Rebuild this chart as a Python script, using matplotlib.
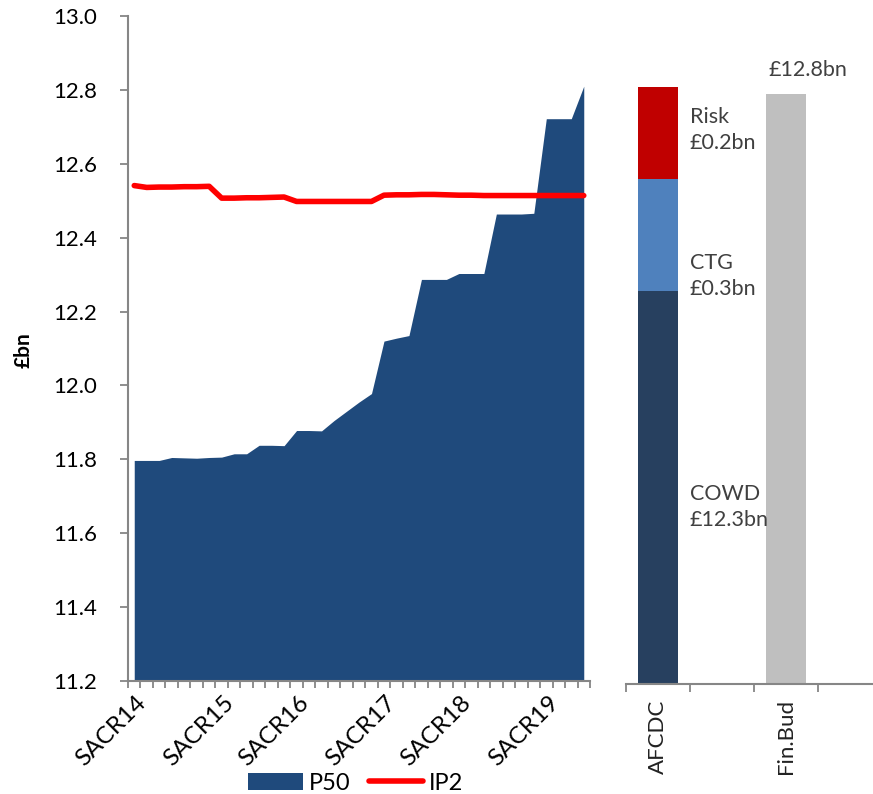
import matplotlib
matplotlib.use("Agg")
import matplotlib.pyplot as plt
from matplotlib.patches import Patch
from matplotlib.lines import Line2D
from matplotlib.transforms import ScaledTranslation
import numpy as np

plt.rcParams['font.family'] = ['Lato', 'DejaVu Sans']

# Monthly P50 estimate and IP2 line (£bn)
p50 = [11.797, 11.797, 11.797, 11.805, 11.804, 11.803, 11.805, 11.806,
       11.815, 11.815, 11.838, 11.838, 11.837, 11.878, 11.878, 11.877,
       11.905, 11.930, 11.955, 11.978, 12.120, 12.128, 12.135, 12.287,
       12.287, 12.287, 12.303, 12.303, 12.303, 12.464, 12.464, 12.464,
       12.466, 12.722, 12.722, 12.722, 12.810]
ip2 = [12.541, 12.536, 12.537, 12.537, 12.538, 12.538, 12.539, 12.507,
       12.507, 12.508, 12.508, 12.509, 12.510, 12.498, 12.498, 12.498,
       12.498, 12.498, 12.498, 12.498, 12.515, 12.516, 12.516, 12.517,
       12.517, 12.516, 12.515, 12.515, 12.514, 12.514, 12.514, 12.514,
       12.514, 12.514, 12.514, 12.514, 12.514]
period_labels = ["SACR14", "SACR15", "SACR16", "SACR17", "SACR18", "SACR19"]
period_index = [0, 7, 13, 20, 26, 33]

# Cost breakdown vs final budget (£bn)
cowd = 12.26
ctg = 0.30
risk = 0.25
fin_bud = 12.79
bar_cats = ["AFCDC", "", "Fin.Bud", ""]

W, H = 873, 794
fig = plt.figure(figsize=(W / 100, H / 100), dpi=100)

def px_axes(x0, y0, x1, y1):
    return fig.add_axes([x0 / W, 1 - y1 / H, (x1 - x0) / W, (y1 - y0) / H])

axis_grey = "#868686"
txt_grey = "#404040"

# ---- left: P50 trend ----
ax = px_axes(128, 16, 590, 681)
x = np.arange(len(p50))
ax.fill_between(x, 11.2, p50, color="#1F4A7C", linewidth=0, zorder=2)
ax.plot(x, ip2, color="#FF0000", lw=4.0, solid_capstyle="round", zorder=3)
ax.set_xlim(-0.5, len(p50) - 0.5)
ax.set_ylim(11.2, 13.0)
yt = np.arange(11.2, 13.01, 0.2)
ax.set_yticks(yt)
ax.set_yticklabels([f"{v:.1f}" for v in yt])
ax.set_xticks(period_index)
ax.set_xticklabels(period_labels, rotation=45, ha="right",
                   rotation_mode="anchor")
ax.set_xticks(np.arange(-0.5, len(p50)), minor=True)
ax.tick_params(axis="x", which="major", length=0, pad=8, labelsize=17.5)
ax.tick_params(axis="x", which="minor", length=5, width=1.3,
               color=axis_grey, direction="out")
ax.tick_params(axis="y", length=6, width=1.3, color=axis_grey,
               pad=16, labelsize=16)
shift = ScaledTranslation(1 / 72, 0, fig.dpi_scale_trans)
for lbl in ax.get_xticklabels():
    lbl.set_transform(lbl.get_transform() + shift)
for s in ["top", "right"]:
    ax.spines[s].set_visible(False)
for s in ["left", "bottom"]:
    ax.spines[s].set_color(axis_grey)
    ax.spines[s].set_linewidth(1.5)

fig.text(24 / W, 1 - 350 / H, "£bn", rotation=90, ha="center", va="center",
         fontsize=15, fontweight="bold")

handles = [Patch(facecolor="#1F4A7C", edgecolor="none"),
           Line2D([], [], color="#FF0000", lw=4.0, solid_capstyle="round")]
fig.legend(handles, ["P50", "IP2"], loc="center",
           bbox_to_anchor=(356 / W, 1 - 783 / H), ncol=2, frameon=False,
           fontsize=17, handlelength=2.3, handleheight=0.7,
           handletextpad=0.25, columnspacing=0.8, borderpad=0)

# ---- right: cost build-up ----
bx = px_axes(626, 16, 873, 684)
bw = 40 / 64
bx.bar(0, cowd, width=bw, color="#27405F", zorder=2)
bx.bar(0, ctg, bottom=cowd, width=bw, color="#4F81BD", zorder=2)
bx.bar(0, risk, bottom=cowd + ctg, width=bw, color="#C00000", zorder=2)
bx.bar(2, fin_bud, width=bw, color="#BFBFBF", zorder=2)
bx.set_ylim(11.2, 13.0)
bx.set_xlim(-0.5, -0.5 + (873 - 626) / 64)
bx.set_xticks(range(len(bar_cats)))
bx.set_xticklabels(bar_cats, rotation=90, va="top", ha="center",
                   fontsize=16, color="#222222")
bx.set_xticks(np.arange(-0.5, 3.0), minor=True)
bx.tick_params(axis="x", which="major", length=0, pad=11)
bx.tick_params(axis="x", which="minor", length=6, width=1.3,
               color=axis_grey, direction="out")
bx.set_yticks([])
for s in ["top", "right", "left"]:
    bx.spines[s].set_visible(False)
bx.spines["bottom"].set_color(axis_grey)
bx.spines["bottom"].set_linewidth(1.5)

lab_kw = dict(ha="left", va="center", fontsize=15.5, color=txt_grey,
              linespacing=1.35)
bx.text(0.5, 12.693, f"Risk\n£{risk:.1f}bn", **lab_kw)
bx.text(0.5, 12.30, f"CTG\n£{ctg:.1f}bn", **lab_kw)
bx.text(0.5, 11.677, f"COWD\n£{cowd:.1f}bn", **lab_kw)
bx.text(2.34, 12.855, f"£{fin_bud:.1f}bn", ha="center", va="center",
        fontsize=15.5, color=txt_grey)

fig.savefig("out.png", dpi=100)
